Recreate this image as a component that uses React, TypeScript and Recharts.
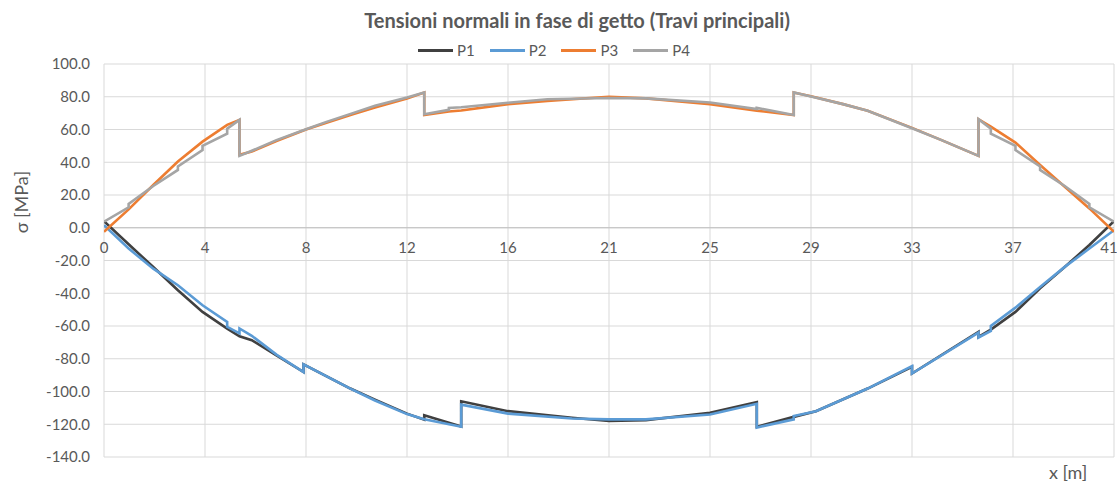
import {
  LineChart,
  Line,
  XAxis,
  YAxis,
  CartesianGrid,
  ReferenceLine,
} from "recharts";

// stations x [m] and normal stresses [MPa]
const P1_X = [0, 1.0, 2.0, 3.0, 4.0, 5.0, 5.5, 6.0, 7.0, 8.1, 8.1, 10.0, 11.0, 12.3, 13.0, 13.0, 14.5, 14.5, 16.4, 19.0, 20.5, 22.0, 24.6, 26.5, 26.5, 28.0, 28.9, 31.0, 32.8, 32.8, 35.5, 35.5, 36.0, 37.0, 38.0, 39.0, 40.0, 41.0];
const P1_Y = [4.0, -10.1, -24.0, -38.2, -51.4, -61.6, -66.3, -68.7, -77.9, -88.1, -83.4, -98.2, -105.0, -113.5, -117.2, -114.5, -121.3, -106.0, -112.0, -116.0, -118.0, -117.5, -113.0, -106.5, -121.5, -115.5, -112.0, -98.2, -85.0, -89.0, -63.6, -66.7, -62.2, -51.4, -37.0, -24.0, -10.5, 4.0];

const P2_X = [0, 1.0, 2.0, 3.0, 4.0, 5.0, 5.0, 5.5, 5.5, 6.0, 7.0, 8.1, 8.1, 10.0, 11.0, 12.3, 13.0, 14.5, 14.5, 16.4, 19.0, 20.5, 22.0, 24.6, 26.5, 26.5, 28.0, 28.0, 28.9, 31.0, 32.8, 32.8, 35.5, 35.5, 36.0, 36.0, 37.0, 38.0, 39.0, 40.0, 41.0];
const P2_Y = [1.5, -12.7, -25.0, -35.1, -47.3, -57.5, -60.5, -64.5, -61.5, -66.0, -77.5, -88.1, -83.4, -98.2, -105.5, -113.8, -117.0, -121.5, -108.0, -113.5, -116.5, -117.0, -117.0, -114.0, -107.5, -122.0, -117.0, -115.0, -112.0, -98.2, -84.5, -89.0, -64.0, -67.0, -63.0, -60.0, -48.8, -36.2, -23.9, -12.7, -1.5];

const P3_X = [0, 1.0, 2.0, 3.0, 4.0, 5.0, 5.5, 5.5, 6.0, 7.0, 8.2, 9.0, 10.1, 11.0, 12.3, 13.0, 13.0, 14.0, 14.5, 16.4, 18.0, 20.5, 22.0, 24.6, 26.5, 28.0, 28.0, 28.7, 30.0, 31.0, 32.8, 34.0, 35.5, 35.5, 36.0, 37.0, 38.0, 39.0, 40.0, 41.0];
const P3_Y = [-2.4, 11.2, 26.1, 40.4, 52.6, 62.8, 65.9, 44.5, 46.5, 53.0, 60.0, 64.0, 69.3, 73.5, 79.0, 82.6, 68.8, 71.0, 71.6, 75.5, 77.5, 80.0, 79.0, 75.5, 71.5, 68.9, 82.6, 80.3, 75.5, 71.5, 61.0, 53.5, 43.9, 66.3, 61.8, 52.0, 38.3, 25.1, 11.8, -2.4];

const P4_X = [0, 1.0, 1.0, 2.0, 3.0, 3.0, 4.0, 4.0, 5.0, 5.0, 5.5, 5.5, 6.0, 7.0, 8.2, 9.0, 10.1, 11.0, 12.3, 13.0, 13.0, 14.0, 14.0, 14.5, 16.4, 18.0, 20.5, 22.0, 24.6, 26.5, 26.5, 28.0, 28.0, 28.7, 30.0, 31.0, 32.8, 34.0, 35.5, 35.5, 36.0, 36.0, 37.0, 37.0, 38.0, 38.0, 39.0, 40.0, 40.0, 41.0];
const P4_Y = [3.7, 12.5, 14.5, 25.5, 35.3, 37.5, 47.5, 50.0, 57.5, 60.5, 65.9, 43.9, 47.0, 53.5, 60.2, 64.5, 70.0, 74.5, 79.5, 82.6, 69.3, 72.0, 73.2, 73.6, 76.3, 78.5, 79.2, 79.0, 76.5, 72.5, 73.2, 68.9, 82.6, 80.1, 75.5, 71.5, 60.8, 53.5, 43.9, 66.3, 60.5, 57.5, 50.0, 47.5, 37.5, 35.3, 25.5, 14.5, 12.5, 3.7];

const X_TICKS = [0, 4.1, 8.2, 12.3, 16.4, 20.5, 24.6, 28.7, 32.8, 36.9, 41];
const Y_TICKS = [-140, -120, -100, -80, -60, -40, -20, 0, 20, 40, 60, 80, 100];

const SERIES = [
  { name: "P1", xs: P1_X, ys: P1_Y, color: "#404040" },
  { name: "P2", xs: P2_X, ys: P2_Y, color: "#5b9bd5" },
  { name: "P3", xs: P3_X, ys: P3_Y, color: "#ed7d31" },
  { name: "P4", xs: P4_X, ys: P4_Y, color: "#a5a5a5" },
];

const W = 1117;
const H = 483;
const TOP = 64;
const PLOT_H = 393;
const ZERO_Y = TOP + (PLOT_H * 100) / 240;
const FONT = "Lato, 'Open Sans', sans-serif";
const TXT = "#595959";

const toPoints = (xs: number[], ys: number[]) => xs.map((x, i) => ({ x, y: ys[i] }));

const XTick = (props: any) => {
  const { x, payload } = props;
  return (
    <text x={x} y={ZERO_Y + 25} textAnchor="middle" fill={TXT} fontSize={15} fontFamily={FONT}>
      {Math.round(payload.value)}
    </text>
  );
};

export default function App() {
  return (
    <div style={{ position: "absolute", left: 0, top: 0, width: W, height: H, background: "#fff", fontFamily: FONT }}>
      <div
        style={{
          position: "absolute",
          left: 577,
          top: 8,
          transform: "translateX(-50%)",
          whiteSpace: "nowrap",
          fontSize: 20,
          fontWeight: 700,
          color: TXT,
        }}
      >
        Tensioni normali in fase di getto (Travi principali)
      </div>

      <div style={{ position: "absolute", left: 418, top: 40, display: "flex", alignItems: "center", height: 20 }}>
        {SERIES.map((s) => (
          <div key={s.name} style={{ display: "flex", alignItems: "center", marginRight: 15 }}>
            <div style={{ width: 35, height: 3, background: s.color, marginRight: 4 }} />
            <span style={{ fontSize: 15, color: TXT }}>{s.name}</span>
          </div>
        ))}
      </div>

      <div
        style={{
          position: "absolute",
          left: 21,
          top: 202,
          transform: "translate(-50%, -50%) rotate(-90deg)",
          whiteSpace: "nowrap",
          fontSize: 18,
          color: TXT,
        }}
      >
        σ [MPa]
      </div>

      <div style={{ position: "absolute", left: 1049, top: 461, fontSize: 18, color: TXT, whiteSpace: "nowrap" }}>
        x [m]
      </div>

      <div style={{ position: "absolute", left: 0, top: 0 }}>
        <LineChart width={W} height={H} margin={{ top: TOP, right: 3, bottom: 0, left: 0 }}>
          <CartesianGrid stroke="#d9d9d9" />
          <XAxis
            dataKey="x"
            type="number"
            domain={[0, 41]}
            ticks={X_TICKS}
            height={26}
            axisLine={false}
            tickLine={false}
            tick={<XTick />}
            allowDataOverflow
          />
          <YAxis
            type="number"
            domain={[-140, 100]}
            ticks={Y_TICKS}
            width={104}
            axisLine={false}
            tickLine={false}
            tickMargin={8}
            tick={{ fill: TXT, fontSize: 15, fontFamily: FONT }}
            tickFormatter={(v: number) => v.toFixed(1)}
          />
          <ReferenceLine y={0} stroke="#bfbfbf" />
          {SERIES.map((s) => (
            <Line
              key={s.name}
              data={toPoints(s.xs, s.ys)}
              dataKey="y"
              name={s.name}
              type="linear"
              stroke={s.color}
              strokeWidth={2.6}
              dot={false}
              activeDot={false}
              isAnimationActive={false}
            />
          ))}
        </LineChart>
      </div>
    </div>
  );
}
